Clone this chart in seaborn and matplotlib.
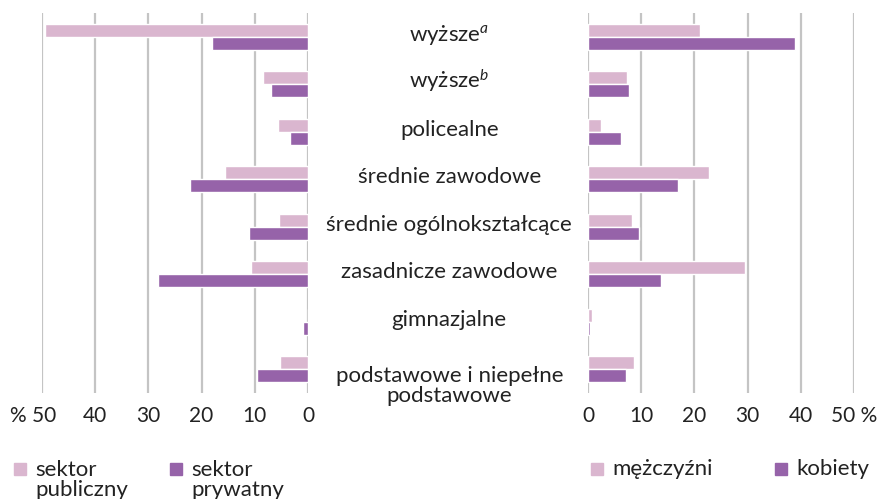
import numpy as np
import pandas as pd
import matplotlib
matplotlib.use("Agg")
import matplotlib.pyplot as plt
import matplotlib.transforms as mtransforms
from matplotlib.patches import Rectangle
import seaborn as sns

# data (%)
categories = ["wyższe$^{a}$", "wyższe$^{b}$", "policealne", "średnie zawodowe",
              "średnie ogólnokształcące", "zasadnicze zawodowe", "gimnazjalne",
              "podstawowe i niepełne\npodstawowe"]
sektor_publiczny = [49.4, 8.5, 5.6, 15.6, 5.5, 10.7, 0.0, 5.3]
sektor_prywatny = [18.0, 7.0, 3.4, 22.2, 11.1, 28.2, 0.9, 9.6]
mezczyzni = [21.0, 7.3, 2.4, 22.7, 8.3, 29.6, 0.75, 8.6]
kobiety = [39.0, 7.7, 6.2, 16.9, 9.6, 13.7, 0.4, 7.1]
ticks = [0, 10, 20, 30, 40, 50]
left_ticklabels = ["0", "10", "20", "30", "40", "% 50"]
right_ticklabels = ["0", "10", "20", "30", "40", "50 %"]

light = "#dab6cf"
dark = "#9663a9"
grid_c = "#c4c4c4"
txt_c = "#222222"

sns.set_theme(style="white")
plt.rcParams["font.family"] = ["Lato", "DejaVu Sans"]
plt.rcParams["mathtext.fontset"] = "custom"
plt.rcParams["mathtext.rm"] = "Lato"
plt.rcParams["mathtext.it"] = "Lato:italic"

left = pd.DataFrame({
    "kat": categories * 2,
    "val": sektor_publiczny + sektor_prywatny,
    "grp": ["sektor publiczny"] * 8 + ["sektor prywatny"] * 8,
})
right = pd.DataFrame({
    "kat": categories * 2,
    "val": mezczyzni + kobiety,
    "grp": ["mężczyźni"] * 8 + ["kobiety"] * 8,
})

fig = plt.figure(figsize=(8.81, 4.99), dpi=100)
W, H = 881, 499
ax1 = fig.add_axes([42 / W, 1 - 393 / H, 266 / W, 380 / H])
ax2 = fig.add_axes([588 / W, 1 - 393 / H, 266 / W, 380 / H])

for ax, df, tl in [(ax1, left, left_ticklabels), (ax2, right, right_ticklabels)]:
    sns.barplot(data=df, y="kat", x="val", hue="grp", orient="h",
                palette=[light, dark], width=0.55, saturation=1,
                legend=False, ax=ax)
    ax.set_xlim(0, 50)
    ax.set_xticks(ticks)
    ax.set_xticklabels(tl)
    ax.xaxis.grid(True, color=grid_c, linewidth=1.6)
    ax.set_axisbelow(True)
    ax.set_yticks([])
    ax.set_xlabel("")
    ax.set_ylabel("")
    ax.tick_params(axis="x", length=0, pad=9, labelsize=15, labelcolor=txt_c)
    for s in ax.spines.values():
        s.set_visible(False)

ax1.invert_xaxis()
# "% 50" sits a bit to the right of the edge like in the original
lbl = ax1.get_xticklabels()[-1]
lbl.set_transform(lbl.get_transform() + mtransforms.ScaledTranslation(-9 / 100, 0, fig.dpi_scale_trans))

# category labels in the gap between the panels
tr = mtransforms.blended_transform_factory(fig.transFigure, ax1.transData)
for i, c in enumerate(categories):
    dy = 0.69 if "\n" in c else 0.08
    fig.text(0.510, i + dy, c, transform=tr, ha="center", va="baseline",
             fontsize=16, color=txt_c, linespacing=1.0)

# legends
legend_items = [(14, light, "sektor\npubliczny"), (170, dark, "sektor\nprywatny"),
                (591, light, "mężczyźni"), (775, dark, "kobiety")]
for x, col, lab in legend_items:
    fig.patches.append(Rectangle((x / W, 1 - 475 / H), 12 / W, 12 / H,
                                 transform=fig.transFigure, color=col))
    yb = 496 if "\n" in lab else 475
    fig.text((x + 21) / W, 1 - yb / H, lab, ha="left", va="baseline",
             fontsize=16, color=txt_c, linespacing=1.0)

fig.savefig("out.png", dpi=100)
